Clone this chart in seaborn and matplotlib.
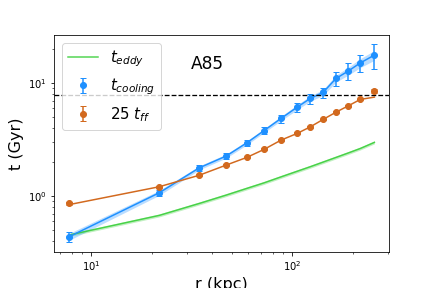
import numpy as np
import seaborn as sns
import matplotlib
matplotlib.use("Agg")
import matplotlib.pyplot as plt

# radii (kpc) of the bins
r_kpc = [7.74, 21.8, 34.5, 46.9, 59.5, 72.5, 88.1, 106.1, 123.2, 142.7, 165.5, 190.6, 218.7, 257.0]

# cooling time (Gyr) with errors and band (fractional half width)
t_cool = [0.436, 1.07, 1.78, 2.26, 2.96, 3.80, 4.87, 6.13, 7.32, 8.27, 11.0, 12.8, 15.1, 17.7]
t_cool_err = [0.045, 0.06, 0.11, 0.14, 0.18, 0.28, 0.40, 0.55, 0.75, 0.85, 1.5, 2.2, 2.5, 4.4]
t_cool_band = [0.07, 0.05, 0.04, 0.04, 0.04, 0.04, 0.045, 0.05, 0.055, 0.06, 0.07, 0.08, 0.09, 0.10]

# 25 x free-fall time (Gyr): data points and model line
t_ff25 = [0.861, 1.21, 1.53, 1.88, 2.20, 2.59, 3.13, 3.59, 4.10, 4.77, 5.53, 6.30, 7.17, 8.55]
t_ff25_err = [0.02, 0.03, 0.03, 0.04, 0.04, 0.05, 0.06, 0.07, 0.08, 0.09, 0.10, 0.12, 0.14, 0.30]
t_ff25_line = [0.84, 1.21, 1.53, 1.88, 2.20, 2.59, 3.13, 3.59, 4.10, 4.77, 5.53, 6.30, 7.17, 7.52]

# eddy turnover time (Gyr)
t_eddy = [0.452, 0.675, 0.861, 1.02, 1.17, 1.31, 1.48, 1.66, 1.82, 2.00, 2.20, 2.41, 2.64, 2.99]

t_ref = 7.8  # horizontal reference (Gyr)
cluster = "A85"

r = np.array(r_kpc)
tc = np.array(t_cool)
band = np.array(t_cool_band)
te = np.array(t_eddy)

fig, ax = plt.subplots(figsize=(6, 4), dpi=72)
fig.subplots_adjust(left=0.125, right=0.9005, top=0.878, bottom=0.125)

# t_eddy
ax.fill_between(r, te * 0.97, te * 1.03, color="limegreen", alpha=0.3, lw=0)
sns.lineplot(x=r, y=te, ax=ax, color="limegreen", lw=1.5, alpha=0.85,
             label=r"$t_{eddy}$", sort=False)

# t_cool
ax.fill_between(r, tc * (1 - band), tc * (1 + band), color="dodgerblue", alpha=0.3, lw=0)
sns.lineplot(x=r, y=tc, ax=ax, color="dodgerblue", lw=1.5, legend=False, sort=False)
ax.errorbar(r, tc, yerr=t_cool_err, fmt="o", color="dodgerblue", ms=6, capsize=3,
            label=r"$t_{cooling}$")

# 25 t_ff
sns.lineplot(x=r, y=t_ff25_line, ax=ax, color="chocolate", lw=1.5, legend=False, sort=False)
ax.errorbar(r, t_ff25, yerr=t_ff25_err, fmt="o", color="chocolate", ms=6, capsize=3,
            label=r"25 $t_{ff}$")

ax.axhline(t_ref, color="k", ls="--", lw=1.3)

ax.set_xscale("log")
ax.set_yscale("log")
ax.set_xlim(6.52, 304)
ax.set_ylim(0.32, 26.6)

ax.set_xlabel("r (kpc)", fontsize=16)
ax.set_ylabel("t (Gyr)", fontsize=16)
ax.text(0.409, 0.843, cluster, transform=ax.transAxes, fontsize=17, va="baseline")

ax.legend(loc="upper left", fontsize=15)

fig.savefig("out.png", dpi=72)
